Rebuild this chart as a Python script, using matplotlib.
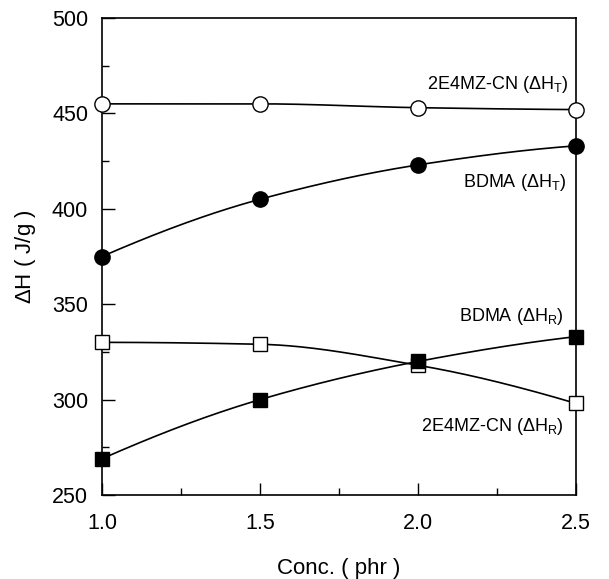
import numpy as np
import matplotlib
matplotlib.use("Agg")
import matplotlib.pyplot as plt
from matplotlib.ticker import MultipleLocator

plt.rcParams['font.family'] = ['Liberation Sans', 'DejaVu Sans']
plt.rcParams['mathtext.fontset'] = 'custom'
plt.rcParams['mathtext.rm'] = 'Liberation Sans'
plt.rcParams['mathtext.it'] = 'Liberation Sans:italic'
plt.rcParams['mathtext.bf'] = 'Liberation Sans:bold'

conc = [1.0, 1.5, 2.0, 2.5]
mz_HT = [455, 455, 453, 452]      # 2E4MZ-CN (dH_T), open circles
bdma_HT = [375, 405, 423, 433]    # BDMA (dH_T), filled circles
mz_HR = [330, 329, 318, 298]      # 2E4MZ-CN (dH_R), open squares
bdma_HR = [269, 300, 320, 333]    # BDMA (dH_R), filled squares

labels = {
    'mz_HT': r'2E4MZ-CN ($\mathregular{\Delta H_T}$)',
    'bdma_HT': r'BDMA ($\mathregular{\Delta H_T}$)',
    'bdma_HR': r'BDMA ($\mathregular{\Delta H_R}$)',
    'mz_HR': r'2E4MZ-CN ($\mathregular{\Delta H_R}$)',
}

fig = plt.figure(figsize=(6.09, 5.79), dpi=100)
ax = fig.add_axes([102/609, 1 - 495/579, 474/609, 477/579])


def _end_slope(h0, h1, d0, d1):
    m = ((2 * h0 + h1) * d0 - h0 * d1) / (h0 + h1)
    if np.sign(m) != np.sign(d0):
        m = 0.0
    elif np.sign(d0) != np.sign(d1) and abs(m) > abs(3 * d0):
        m = 3 * d0
    return m


def pchip_curve(x, y, n=60):
    """Monotone cubic (Fritsch-Carlson) curve through the data points."""
    x = np.asarray(x, float)
    y = np.asarray(y, float)
    h = np.diff(x)
    d = np.diff(y) / h
    m = np.zeros_like(y)
    for k in range(1, len(x) - 1):
        if d[k - 1] * d[k] > 0:
            w1 = 2 * h[k] + h[k - 1]
            w2 = h[k] + 2 * h[k - 1]
            m[k] = (w1 + w2) / (w1 / d[k - 1] + w2 / d[k])
    m[0] = _end_slope(h[0], h[1], d[0], d[1])
    m[-1] = _end_slope(h[-1], h[-2], d[-1], d[-2])
    xs_all, ys_all = [], []
    for k in range(len(x) - 1):
        t = np.linspace(0, 1, n)
        h00 = 2 * t**3 - 3 * t**2 + 1
        h10 = t**3 - 2 * t**2 + t
        h01 = -2 * t**3 + 3 * t**2
        h11 = t**3 - t**2
        xs_all.append(x[k] + t * h[k])
        ys_all.append(h00 * y[k] + h10 * h[k] * m[k] + h01 * y[k + 1] + h11 * h[k] * m[k + 1])
    return np.concatenate(xs_all), np.concatenate(ys_all)


def draw(y, marker, filled):
    cx, cy = pchip_curve(conc, y)
    ax.plot(cx, cy, color='black', lw=1.2, zorder=2)
    ax.plot(conc, y, linestyle='none', marker=marker,
            markersize=11 if marker == 'o' else 10,
            markerfacecolor='black' if filled else 'white',
            markeredgecolor='black', markeredgewidth=1.0, zorder=3, clip_on=False)

draw(mz_HT, 'o', False)
draw(bdma_HT, 'o', True)
draw(mz_HR, 's', False)
draw(bdma_HR, 's', True)

fs_ann = 13
ax.text(2.475, 463, labels['mz_HT'], ha='right', va='baseline', fontsize=fs_ann)
ax.text(2.47, 411.5, labels['bdma_HT'], ha='right', va='baseline', fontsize=fs_ann)
ax.text(2.46, 341, labels['bdma_HR'], ha='right', va='baseline', fontsize=fs_ann)
ax.text(2.46, 283.5, labels['mz_HR'], ha='right', va='baseline', fontsize=fs_ann)

ax.set_xlim(1.0, 2.5)
ax.set_ylim(250, 500)
ax.xaxis.set_major_locator(MultipleLocator(0.5))
ax.xaxis.set_minor_locator(MultipleLocator(0.25))
ax.yaxis.set_major_locator(MultipleLocator(50))
ax.yaxis.set_minor_locator(MultipleLocator(25))
ax.set_xticks(conc)
ax.set_xticklabels(['1.0', '1.5', '2.0', '2.5'])
ax.tick_params(which='both', direction='in', top=False, right=False,
               labelsize=15.5, width=1.0)
ax.tick_params(which='major', length=9)
ax.tick_params(which='minor', length=5)
ax.tick_params(axis='x', which='major', pad=13)
ax.tick_params(axis='y', which='major', pad=10)
for s in ax.spines.values():
    s.set_linewidth(1.2)

ax.set_xlabel('Conc. ( phr )', fontsize=16, labelpad=17)
ax.set_ylabel(r'$\mathregular{\Delta}$H ( J/g )', fontsize=16, labelpad=10)

fig.savefig('out.png', dpi=100)
